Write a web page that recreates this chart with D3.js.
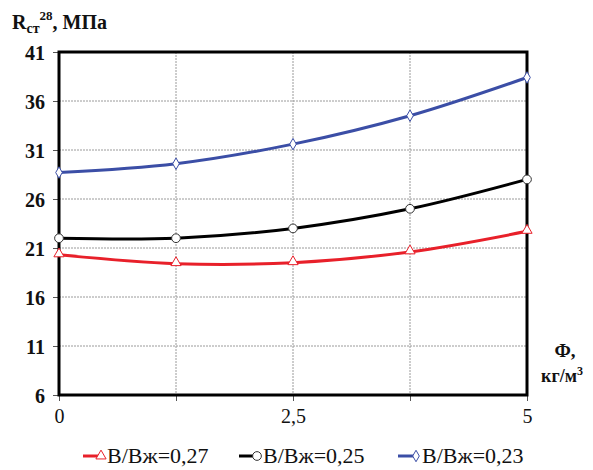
<!DOCTYPE html>
<html>
<head>
<meta charset="utf-8">
<script src="https://cdn.jsdelivr.net/npm/d3@7"></script>
<style>
  html, body { margin: 0; padding: 0; background: #fff; }
  svg { display: block; }
</style>
</head>
<body>
<svg id="chart" width="593" height="470"></svg>
<script>
// Fibre dosage, kg/m3
const dosage = [0, 1.25, 2.5, 3.75, 5];
// Compressive strength at 28 days, MPa, per water/binder ratio
const strength027 = [20.3, 19.4, 19.5, 20.6, 22.7];
const strength025 = [22.0, 22.0, 23.0, 25.0, 28.0];
const strength023 = [28.7, 29.6, 31.6, 34.5, 38.4];
const seriesNames = ["В/Вж=0,27", "В/Вж=0,25", "В/Вж=0,23"];
const yTicks = [6, 11, 16, 21, 26, 31, 36, 41];
const xGrid = [0, 1.25, 2.5, 3.75, 5];
const xTickLabels = [[0, "0"], [2.5, "2,5"], [5, "5"]];

const FONT = "Times New Roman, Liberation Serif, serif";
const svg = d3.select("#chart");
const plotL = 59, plotR = 527, plotT = 52, plotB = 395;

const x = d3.scaleLinear().domain([0, 5]).range([plotL, plotR]);
const y = d3.scaleLinear().domain([6, 41]).range([plotB, plotT]);

// dotted grid
const grid = svg.append("g").attr("stroke", "#9a9a9a").attr("stroke-width", 1)
  .attr("stroke-dasharray", "2,1");
grid.selectAll("line.h").data(yTicks.slice(1, -1)).join("line")
  .attr("x1", plotL).attr("x2", plotR)
  .attr("y1", d => y(d)).attr("y2", d => y(d));
grid.selectAll("line.v").data(xGrid.slice(1, -1)).join("line")
  .attr("y1", plotT).attr("y2", plotB)
  .attr("x1", d => x(d)).attr("x2", d => x(d));

// axes
const yAxis = d3.axisLeft(y).tickValues(yTicks).tickSize(6).tickFormat(d3.format("d"));
const xAxis = d3.axisBottom(x).tickValues(xGrid).tickSize(6)
  .tickFormat(d => { const t = xTickLabels.find(e => e[0] === d); return t ? t[1] : ""; });

const gy = svg.append("g").attr("transform", `translate(${plotL},0)`).call(yAxis)
  .attr("font-family", FONT).attr("font-size", 20);
gy.select(".domain").remove();
gy.selectAll(".tick line").attr("stroke", "#555");
gy.selectAll(".tick text").attr("x", -14).attr("dy", "0.35em")
  .attr("font-weight", "bold").attr("fill", "#111");

const gx = svg.append("g").attr("transform", `translate(0,${plotB})`).call(xAxis)
  .attr("font-family", FONT).attr("font-size", 20);
gx.select(".domain").remove();
gx.selectAll(".tick line").attr("stroke", "#555");
gx.selectAll(".tick text").attr("y", 14).attr("dy", "0.71em").attr("fill", "#111");

// plot frame
svg.append("rect").attr("x", plotL).attr("y", plotT)
  .attr("width", plotR - plotL).attr("height", plotB - plotT)
  .attr("fill", "none").attr("stroke", "#000").attr("stroke-width", 3);

// series
const series = [
  { name: seriesNames[0], values: strength027, color: "#e8202a", marker: "triangle" },
  { name: seriesNames[1], values: strength025, color: "#000000", marker: "circle" },
  { name: seriesNames[2], values: strength023, color: "#3b4ea6", marker: "diamond" }
];

const line = d3.line().x(d => x(d[0])).y(d => y(d[1])).curve(d3.curveCatmullRom.alpha(0.5));

function markerPath(type, size) {
  const sym = type === "triangle" ? d3.symbolTriangle
            : type === "circle" ? d3.symbolCircle : d3.symbolDiamond;
  return d3.symbol().type(sym).size(size)();
}
const markerSize = { triangle: 45, circle: 60, diamond: 38 };

series.forEach(s => {
  const pts = dosage.map((d, i) => [d, s.values[i]]);
  svg.append("path").datum(pts).attr("d", line)
    .attr("fill", "none").attr("stroke", s.color).attr("stroke-width", 3);
  svg.append("g").selectAll("path").data(pts).join("path")
    .attr("d", markerPath(s.marker, markerSize[s.marker]))
    .attr("transform", d => `translate(${x(d[0])},${y(d[1]) - (s.marker === "triangle" ? 1 : 0)})`)
    .attr("fill", "#fff").attr("stroke", s.marker === "circle" ? "#333" : s.color)
    .attr("stroke-width", 1);
});

// y axis title
const yt = svg.append("text").attr("x", 12).attr("y", 29).attr("font-family", FONT)
  .attr("font-size", 20).attr("font-weight", "bold").attr("fill", "#111");
yt.append("tspan").text("R");
yt.append("tspan").text("ст").attr("font-size", 14).attr("dy", 4);
yt.append("tspan").text("28").attr("font-size", 13).attr("dy", -13);
yt.append("tspan").text(", МПа").attr("dy", 9);

// x axis title
svg.append("text").attr("x", 565).attr("y", 357).attr("text-anchor", "middle").attr("font-family", FONT)
  .attr("font-size", 19).attr("font-weight", "bold").attr("fill", "#111").text("Ф,");
const xt = svg.append("text").attr("x", 562).attr("y", 382).attr("text-anchor", "middle").attr("font-family", FONT)
  .attr("font-size", 18).attr("font-weight", "bold").attr("fill", "#111");
xt.append("tspan").text("кг/м");
xt.append("tspan").text("3").attr("font-size", 12).attr("dy", -7);

// legend
const legendX = [83, 239, 398];
series.forEach((s, i) => {
  const g = svg.append("g").attr("transform", `translate(${legendX[i]},456)`);
  g.append("line").attr("x1", 0).attr("x2", 20).attr("y1", 0).attr("y2", 0)
    .attr("stroke", s.color).attr("stroke-width", 3);
  g.append("path").attr("d", markerPath(s.marker, markerSize[s.marker]))
    .attr("transform", "translate(18,0)")
    .attr("fill", "#fff").attr("stroke", s.marker === "circle" ? "#333" : s.color).attr("stroke-width", 1);
  g.append("text").attr("x", 24).attr("y", 7).attr("font-family", FONT).attr("font-size", 22)
    .attr("fill", "#111").text(s.name);
});
</script>
</body>
</html>
